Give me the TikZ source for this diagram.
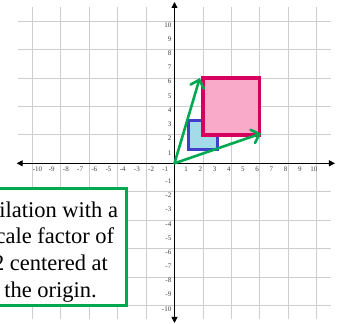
\documentclass[tikz,border=0pt]{standalone}
\usepackage{fontspec}
\setmainfont{Liberation Serif}
\usetikzlibrary{arrows.meta}
\definecolor{gridgray}{HTML}{CDCDCD}
\definecolor{labgray}{HTML}{404040}
\definecolor{dgreen}{HTML}{00A850}
\definecolor{bblue}{HTML}{4040C8}
\definecolor{lblue}{HTML}{A3DBE8}
\definecolor{crim}{HTML}{D6005E}
\definecolor{lpink}{HTML}{F8AAC8}
\begin{document}
\begin{tikzpicture}[x=14.2pt,y=14.2pt,
  lab/.style={text=labgray,font=\fontsize{7}{8}\selectfont,inner sep=0pt},
  axis/.style={black,line width=0.8pt,{Triangle[length=6pt,width=6pt]}-{Triangle[length=6pt,width=6pt]}},
  vec/.style={dgreen,line width=2.6pt,line cap=round,-{Straight Barb[length=7pt,width=14pt,line cap=round]}},
  textbox/.style={draw=dgreen,line width=3pt,fill=white,minimum width=149pt,minimum height=117pt,inner sep=0pt},
  boxtext/.style={align=center,inner sep=0pt,font=\fontsize{22.5}{26.7}\selectfont}]
\useasboundingbox (-174.5pt,-160.7pt) rectangle (166.5pt,163.3pt);
\fill[white] (-174.5pt,-160.7pt) rectangle (166.5pt,163.3pt);
\draw[gridgray,line width=0.8pt] (-11,-11) grid (11,11);
\coordinate (xl) at (-157.8pt,0);
\coordinate (xr) at (160.5pt,0);
\coordinate (yb) at (0,-159.7pt);
\coordinate (yt) at (0,161.3pt);
\draw[axis] (xl) -- (xr);
\draw[axis] (yb) -- (yt);
\foreach \n in {1,...,10}{
  \node[lab] (xp\n) at ([xshift=-2.5pt,yshift=-5.7pt]\n,0) {\n};
  \node[lab] (xn\n) at ([xshift=5pt,yshift=-5.7pt]-\n,0) {-\n};
  \node[lab,anchor=east] (yp\n) at ([xshift=-3pt,yshift=-3.6pt]0,\n) {\n};
  \node[lab,anchor=east] (yn\n) at ([xshift=-3pt,yshift=-3.6pt]0,-\n) {-\n};
}
\draw[bblue,fill=lblue,line width=3pt] (1,1) rectangle (3,3);
\draw[crim,fill=lpink,line width=3.5pt] (2,2) rectangle (6,6);
\coordinate (O) at (0,0);
\coordinate (A) at (1.78,6);
\coordinate (B) at (6.1,2.1);
\draw[vec] (O) -- (A);
\draw[vec] (O) -- (B);
\node[textbox] (box) at (-122.5pt,-83.6pt) {};
\node[boxtext] (txt) at (-124pt,-88.6pt) {Dilation with a\\scale factor of\\2 centered at\\the origin.};
\end{tikzpicture}
\end{document}
